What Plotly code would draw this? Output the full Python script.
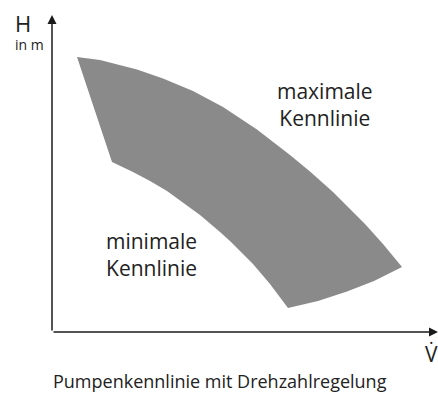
import plotly.graph_objects as go

# Schematic values (arbitrary units: Q = flow, H = head)
# upper edge: maximum speed curve
max_Q = [25, 48, 85, 111, 141, 171, 205, 238, 258, 281, 313, 331, 350]
max_H = [275, 272, 262.5, 253.5, 241, 225, 202.5, 177, 160.5, 140, 108, 88, 65]

# right/lower end edge
end_Q = [322, 295, 266, 236]
end_H = [51, 40.5, 31, 24]

# lower edge: minimum speed curve
min_Q = [218, 201, 178, 168, 148, 115, 98, 81, 60]
min_H = [48, 68, 91, 100, 117, 141, 151, 160, 170]

axis_Q_max = 386
axis_H_max = 317

labels = {
    "H": "H",
    "unit": "in m",
    "x": "V\u0307",
    "max": "maximale<br>Kennlinie",
    "min": "minimale<br>Kennlinie",
    "title": "Pumpenkennlinie mit Drehzahlregelung",
}

FONT = "Open Sans"
TXT = "#222222"
AX = "#1a1a1a"

poly_Q = max_Q + end_Q + min_Q + [max_Q[0]]
poly_H = max_H + end_H + min_H + [max_H[0]]

fig = go.Figure()
fig.add_trace(go.Scatter(
    x=poly_Q, y=poly_H, mode="lines", fill="toself",
    fillcolor="#8a8a8a",
    line=dict(width=0, color="#8a8a8a", simplify=False),
    hoverinfo="skip", showlegend=False,
))

# axis lines with arrows
fig.add_annotation(x=0, y=axis_H_max, ax=0, ay=0, xref="x", yref="y",
                   axref="x", ayref="y", showarrow=True, arrowhead=2,
                   arrowsize=1.2, arrowwidth=1.5, arrowcolor=AX, text="")
fig.add_annotation(x=axis_Q_max, y=0, ax=0, ay=0, xref="x", yref="y",
                   axref="x", ayref="y", showarrow=True, arrowhead=2,
                   arrowsize=1.2, arrowwidth=1.5, arrowcolor=AX, text="")

def txt(x, y, s, size):
    fig.add_annotation(x=x, y=y, xref="x", yref="y", text=s, showarrow=False,
                       font=dict(family=FONT, size=size, color=TXT),
                       align="center", xanchor="center", yanchor="middle")

txt(-29, 309, labels["H"], 22)
txt(-22.5, 288, labels["unit"], 14)
txt(379, -22, labels["x"], 21)
txt(273, 228, labels["max"], 21)
txt(99, 78, labels["min"], 21)
txt(168, -49, labels["title"], 18)

fig.update_layout(
    width=438, height=401,
    margin=dict(l=0, r=0, t=0, b=0),
    paper_bgcolor="white", plot_bgcolor="white",
    xaxis=dict(range=[-52, 386], visible=False, fixedrange=True),
    yaxis=dict(range=[-69, 332], visible=False, fixedrange=True),
)

fig.write_html(
    "out.html",
    config={"displayModeBar": False},
    post_script="document.body.style.margin='0';document.body.style.padding='0';",
)
